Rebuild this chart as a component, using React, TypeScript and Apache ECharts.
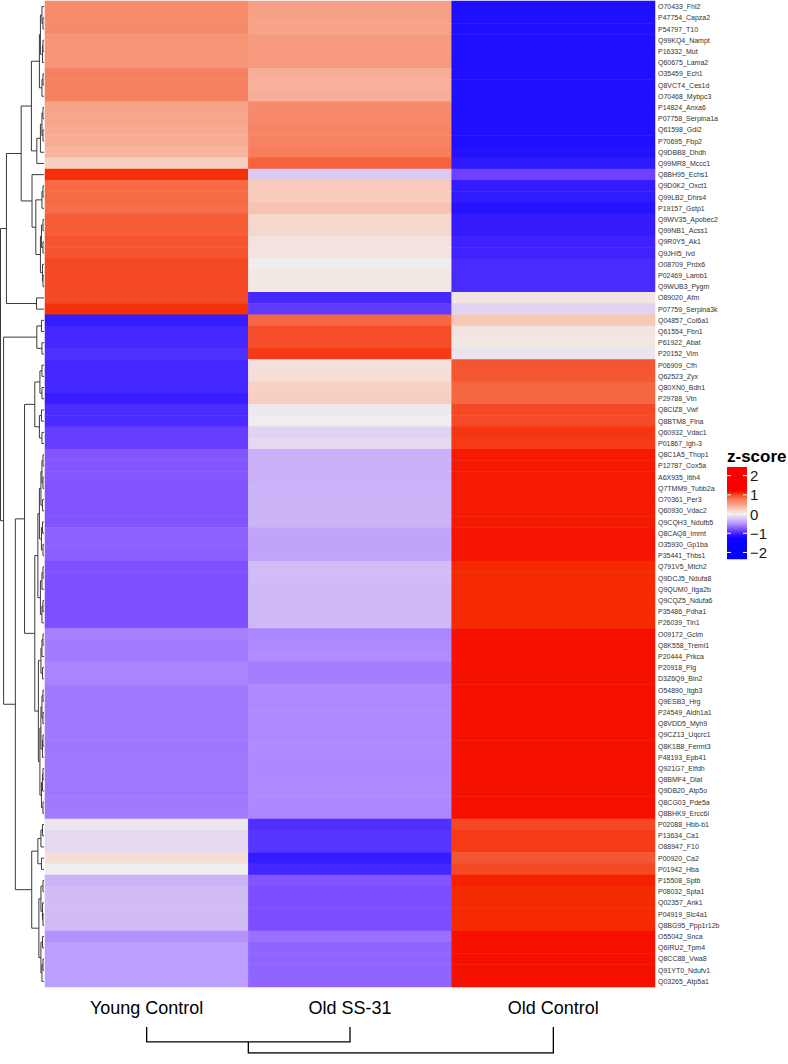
import React, { useEffect, useRef } from "react";
import * as echarts from "echarts";

const groups = ["Young Control", "Old SS-31", "Old Control"];

const proteins = [
  "O70433_Fhl2", "P47754_Capza2", "P54797_T10", "Q99KQ4_Nampt", "P16332_Mut",
  "Q60675_Lama2", "O35459_Ech1", "Q8VCT4_Ces1d", "O70468_Mybpc3", "P14824_Anxa6",
  "P07758_Serpina1a", "Q61598_Gdi2", "P70695_Fbp2", "Q9DBB8_Dhdh", "Q99MR8_Mccc1",
  "Q8BH95_Echs1", "Q9D0K2_Oxct1", "Q99LB2_Dhrs4", "P19157_Gstp1", "Q9WV35_Apobec2",
  "Q99NB1_Acss1", "Q9R0Y5_Ak1", "Q9JHI5_Ivd", "O08709_Prdx6", "P02469_Lamb1",
  "Q9WUB3_Pygm", "O89020_Afm", "P07759_Serpina3k", "Q04857_Col6a1", "Q61554_Fbn1",
  "P61922_Abat", "P20152_Vim", "P06909_Cfh", "Q62523_Zyx", "Q80XN0_Bdh1",
  "P29788_Vtn", "Q8CIZ8_Vwf", "Q8BTM8_Flna", "Q60932_Vdac1", "P01867_Igh-3",
  "Q8C1A5_Thop1", "P12787_Cox5a", "A6X935_Itih4", "Q7TMM9_Tubb2a", "O70361_Per3",
  "Q60930_Vdac2", "Q9CQH3_Ndufb5", "Q8CAQ8_Immt", "O35930_Gp1ba", "P35441_Thbs1",
  "Q791V5_Mtch2", "Q9DCJ5_Ndufa8", "Q9QUM0_Itga2b", "Q9CQZ5_Ndufa6", "P35486_Pdha1",
  "P26039_Tln1", "O09172_Gclm", "Q8K558_Treml1", "P20444_Prkca", "P20918_Plg",
  "D3Z6Q9_Bin2", "O54890_Itgb3", "Q9ESB3_Hrg", "P24549_Aldh1a1", "Q8VDD5_Myh9",
  "Q9CZ13_Uqcrc1", "Q8K1B8_Fermt3", "P48193_Epb41", "Q921G7_Etfdh", "Q8BMF4_Dlat",
  "Q9DB20_Atp5o", "Q8CG03_Pde5a", "Q8BHK9_Ercc6l", "P02088_Hbb-b1", "P13634_Ca1",
  "O88947_F10", "P00920_Ca2", "P01942_Hba", "P15508_Sptb", "P08032_Spta1",
  "Q02357_Ank1", "P04919_Slc4a1", "Q8BG95_Ppp1r12b", "O55042_Snca", "Q6IRU2_Tpm4",
  "Q8CC88_Vwa8", "Q91YT0_Ndufv1", "Q03265_Atp5a1",
];

const youngControl = [
  0.66, 0.67, 0.68, 0.60, 0.60, 0.59, 0.74, 0.75, 0.73, 0.48,
  0.47, 0.44, 0.43, 0.38, 0.22, 1.08, 0.84, 0.84, 0.82, 0.90,
  0.90, 0.95, 0.96, 1.00, 1.00, 1.00, 0.99, 1.08, -1.07, -1.00,
  -1.00, -0.95, -1.00, -1.00, -1.00, -1.05, -0.97, -0.97, -0.88, -0.88,
  -0.76, -0.76, -0.76, -0.77, -0.77, -0.77, -0.77, -0.71, -0.71, -0.72,
  -0.79, -0.79, -0.79, -0.79, -0.79, -0.79, -0.59, -0.61, -0.61, -0.57,
  -0.57, -0.62, -0.62, -0.63, -0.62, -0.62, -0.63, -0.62, -0.62, -0.62,
  -0.63, -0.62, -0.61, -0.05, -0.12, -0.12, 0.12, 0.00, -0.35, -0.30,
  -0.30, -0.30, -0.30, -0.50, -0.45, -0.45, -0.45, -0.45,
];

const oldSS31 = [
  0.50, 0.49, 0.48, 0.55, 0.55, 0.56, 0.41, 0.40, 0.42, 0.67,
  0.68, 0.71, 0.72, 0.76, 0.88, -0.22, 0.25, 0.24, 0.30, 0.17,
  0.17, 0.08, 0.07, 0.00, 0.05, 0.04, -1.00, -0.90, 0.85, 0.98,
  0.98, 1.05, 0.10, 0.12, 0.20, 0.22, -0.03, 0.00, -0.16, -0.12,
  -0.37, -0.37, -0.37, -0.35, -0.35, -0.35, -0.35, -0.42, -0.43, -0.42,
  -0.30, -0.30, -0.32, -0.32, -0.32, -0.32, -0.56, -0.55, -0.53, -0.60,
  -0.60, -0.55, -0.55, -0.54, -0.55, -0.55, -0.54, -0.55, -0.55, -0.55,
  -0.54, -0.55, -0.56, -0.95, -0.93, -0.93, -1.07, -1.00, -0.77, -0.80,
  -0.80, -0.80, -0.80, -0.65, -0.70, -0.70, -0.70, -0.70,
];

const oldControl = [
  -1.15, -1.15, -1.15, -1.15, -1.15, -1.15, -1.15, -1.15, -1.15, -1.15,
  -1.15, -1.15, -1.15, -1.13, -1.09, -0.86, -1.07, -1.08, -1.12, -1.07,
  -1.07, -1.03, -1.03, -0.98, -0.98, -0.98, 0.06, -0.15, 0.27, 0.06,
  0.05, -0.05, 0.95, 0.94, 0.86, 0.86, 1.00, 0.99, 1.06, 1.05,
  1.13, 1.13, 1.13, 1.13, 1.13, 1.13, 1.13, 1.14, 1.14, 1.14,
  1.10, 1.10, 1.10, 1.10, 1.10, 1.10, 1.15, 1.15, 1.15, 1.15,
  1.15, 1.15, 1.15, 1.15, 1.15, 1.15, 1.15, 1.15, 1.15, 1.15,
  1.15, 1.15, 1.15, 1.00, 1.05, 1.05, 0.95, 1.00, 1.12, 1.10,
  1.10, 1.10, 1.10, 1.15, 1.15, 1.15, 1.15, 1.15,
];

const legendTicks = [2, 1, 0, -1, -2];

// colour ramp (value -> colour), blue - white - red
const colorStops: [number, string][] = [
  [-2.5, "#0000FF"], [-1.3, "#0C02FF"], [-1.15, "#1E10FF"], [-1.05, "#3A1EFF"],
  [-0.95, "#5030FF"], [-0.85, "#7244FF"], [-0.75, "#8558FF"], [-0.6, "#A47EFF"],
  [-0.45, "#BC9EFC"], [-0.37, "#C9B0F8"], [-0.2, "#DCCCF2"], [0, "#EFEDED"],
  [0.15, "#F6DAD0"], [0.3, "#F8C2B0"], [0.5, "#F7A085"], [0.67, "#F68B6B"],
  [0.75, "#F68060"], [0.85, "#F66843"], [0.95, "#F55532"], [1.05, "#F53A15"],
  [1.1, "#F52A00"], [1.15, "#F51000"], [1.3, "#F50000"], [2.5, "#FF0000"],
];

// row dendrogram (leaf = row index, node = [left, right, height])
type TreeNode = number | [TreeNode, TreeNode, number];
const clusterA1: TreeNode = [
  [[[0, [1, 2, 1], 2], [[3, 4, 1], 5, 1.5], 3.5], [[6, 7, 1], 8, 2], 4.5],
  [[[[9, 10, 1], [11, 12, 1], 2], 13, 3.5], 14, 7],
  12.3,
];
const clusterA2: TreeNode = [
  15,
  [[[16, 17, 1], 18, 2], [[[19, 20, 1], [21, 22, 1], 2.5], [23, [24, 25, 1], 1.5], 3.5], 8],
  11.7,
];
const clusterA: TreeNode = [[clusterA1, clusterA2, 22.3], [26, 27, 7.3], 36.7];
const clusterB1: TreeNode = [[28, 29, 2.5], [30, 31, 2], 7];
const clusterB2: TreeNode = [[[32, 33, 2], [34, 35, 2], 4], [[36, 37, 2.5], [38, 39, 2], 4.5], 9];
const clusterB3a: TreeNode = [[[[40, 41, 1], [42, 43, 1], 2], [44, 45, 1.5], 3], [[46, 47, 1.5], [48, 49, 1], 2.5], 4.5];
const clusterB3b: TreeNode = [[[50, 51, 1], 52, 2], [[53, 54, 1], 55, 2], 3.5];
const clusterB3c1: TreeNode = [[[56, 57, 1], 58, 2], [59, 60, 1.5], 3];
const clusterB3c2: TreeNode = [
  [[[61, 62, 1], [63, 64, 1], 2], [[65, 66, 1], 67, 1.5], 3],
  [[[68, 69, 1], 70, 1.5], [71, 72, 1], 2.5],
  4,
];
const clusterB3: TreeNode = [[clusterB3a, clusterB3b, 6], [clusterB3c1, clusterB3c2, 5.5], 9];
const clusterB4a: TreeNode = [[[73, 74, 1.5], 75, 3], [76, 77, 2.5], 6];
const clusterB4b: TreeNode = [[[78, 79, 1], [80, [81, 82, 1], 1.5], 3], [[83, 84, 1.5], [[85, 86, 1], 87, 2], 3], 5];
const clusterB4: TreeNode = [clusterB4a, clusterB4b, 12];
const clusterB: TreeNode = [clusterB1, [[clusterB2, clusterB3, 19], clusterB4, 28], 39.5];
const rowTree: TreeNode = [clusterA, clusterB, 42.5];

// column dendrogram
const colTree: TreeNode = [[0, 1, 1.15], 2, 2];

function hexToRgb(h: string) {
  return [parseInt(h.slice(1, 3), 16), parseInt(h.slice(3, 5), 16), parseInt(h.slice(5, 7), 16)];
}
function colorAt(v: number) {
  if (v <= colorStops[0][0]) return colorStops[0][1];
  for (let i = 0; i < colorStops.length - 1; i++) {
    const [v0, c0] = colorStops[i];
    const [v1, c1] = colorStops[i + 1];
    if (v >= v0 && v <= v1) {
      const t = (v - v0) / (v1 - v0);
      const a = hexToRgb(c0), b = hexToRgb(c1);
      const r = a.map((x, k) => Math.round(x + (b[k] - x) * t));
      return `rgb(${r[0]},${r[1]},${r[2]})`;
    }
  }
  return colorStops[colorStops.length - 1][1];
}

function layoutTree(node: TreeNode, segs: number[][][]): { p: number; h: number } {
  if (typeof node === "number") return { p: node + 0.5, h: 0 };
  const a = layoutTree(node[0], segs);
  const b = layoutTree(node[1], segs);
  const h = node[2];
  segs.push([[a.p, a.h], [a.p, h], [b.p, h], [b.p, b.h]]);
  return { p: (a.p + b.p) / 2, h };
}

export default function App() {
  const ref = useRef<HTMLDivElement>(null);
  useEffect(() => {
    if (!ref.current) return;
    const chart = echarts.init(ref.current, null, { renderer: "svg" });

    const heatData: number[][] = [];
    const cols = [youngControl, oldSS31, oldControl];
    proteins.forEach((_, r) => {
      cols.forEach((col, c) => heatData.push([c, r, col[r]]));
    });

    const palette = Array.from({ length: 201 }, (_, i) => colorAt(-2.5 + i * 0.025));

    const rowSegs: number[][][] = [];
    layoutTree(rowTree, rowSegs);
    const colSegs: number[][][] = [];
    layoutTree(colTree, colSegs);

    // legend geometry
    const lgTop = 467, lgUnit = 19.2, lgMax = 2.45, lgMin = -2.35;
    const lgX = 727, lgW = 20;
    const zeroY = lgTop + lgMax * lgUnit;
    const gradStops = Array.from({ length: 97 }, (_, i) => {
      const v = lgMax - (i / 96) * (lgMax - lgMin);
      return { offset: i / 96, color: colorAt(v) };
    });
    const legendGraphics: any[] = [
      {
        type: "text", x: lgX, y: 448,
        style: { text: "z-score", font: "bold 17px 'Liberation Sans', Arial", fill: "#000" },
      },
      {
        type: "rect",
        shape: { x: lgX, y: lgTop, width: lgW, height: (lgMax - lgMin) * lgUnit },
        style: { fill: new echarts.graphic.LinearGradient(0, 0, 0, 1, gradStops) },
      },
    ];
    legendTicks.forEach((t) => {
      const y = zeroY - t * lgUnit;
      legendGraphics.push(
        { type: "line", shape: { x1: lgX, y1: y, x2: lgX + 4, y2: y }, style: { stroke: "#fff", lineWidth: 1 } },
        { type: "line", shape: { x1: lgX + lgW - 4, y1: y, x2: lgX + lgW, y2: y }, style: { stroke: "#fff", lineWidth: 1 } },
        {
          type: "text", x: lgX + lgW + 3, y,
          style: {
            text: t < 0 ? "\u2212" + Math.abs(t) : String(t),
            font: "15px 'Liberation Sans', Arial", fill: "#1a1a1a", verticalAlign: "middle",
          },
        }
      );
    });

    chart.setOption({
      animation: false,
      grid: [
        { left: 45, top: 1, width: 610, height: 986 },
        { left: 0, top: 1, width: 44, height: 986 },
        { left: 45, top: 1027, width: 610, height: 26 },
      ],
      xAxis: [
        {
          gridIndex: 0, type: "category", data: groups, position: "bottom",
          axisLine: { show: false }, axisTick: { show: false },
          axisLabel: { fontSize: 18, color: "#000", margin: 12, fontFamily: "'Liberation Sans', Arial" },
        },
        { gridIndex: 1, type: "value", min: 0, max: 43, inverse: true, show: false },
        { gridIndex: 2, type: "value", min: 0, max: 3, show: false },
      ],
      yAxis: [
        {
          gridIndex: 0, type: "category", data: proteins, inverse: true, position: "right",
          axisLine: { show: false }, axisTick: { show: false },
          axisLabel: { fontSize: 7, color: "#333", margin: 3, interval: 0, fontFamily: "'Liberation Sans', Arial" },
        },
        { gridIndex: 1, type: "value", min: 0, max: 88, inverse: true, show: false },
        { gridIndex: 2, type: "value", min: 0, max: 2, inverse: true, show: false },
      ],
      visualMap: {
        show: false, type: "continuous", min: -2.5, max: 2.5, dimension: 2,
        seriesIndex: 0, inRange: { color: palette },
      },
      series: [
        {
          type: "heatmap", xAxisIndex: 0, yAxisIndex: 0, data: heatData,
          itemStyle: { borderWidth: 0 }, emphasis: { disabled: true }, silent: true,
        },
        {
          type: "lines", coordinateSystem: "cartesian2d", xAxisIndex: 1, yAxisIndex: 1,
          polyline: true, silent: true,
          data: rowSegs.map((s) => ({ coords: s.map(([p, h]) => [h, p]) })),
          lineStyle: { color: "#3a3a3a", width: 1, opacity: 1 },
        },
        {
          type: "lines", coordinateSystem: "cartesian2d", xAxisIndex: 2, yAxisIndex: 2,
          polyline: true, silent: true,
          data: colSegs.map((s) => ({ coords: s.map(([p, h]) => [p, h]) })),
          lineStyle: { color: "#000", width: 1.3, opacity: 1 },
        },
      ],
      graphic: legendGraphics,
    });
    return () => chart.dispose();
  }, []);
  return (
    <div
      ref={ref}
      style={{ position: "fixed", left: 0, top: 0, width: 788, height: 1064, background: "#fff" }}
    />
  );
}
